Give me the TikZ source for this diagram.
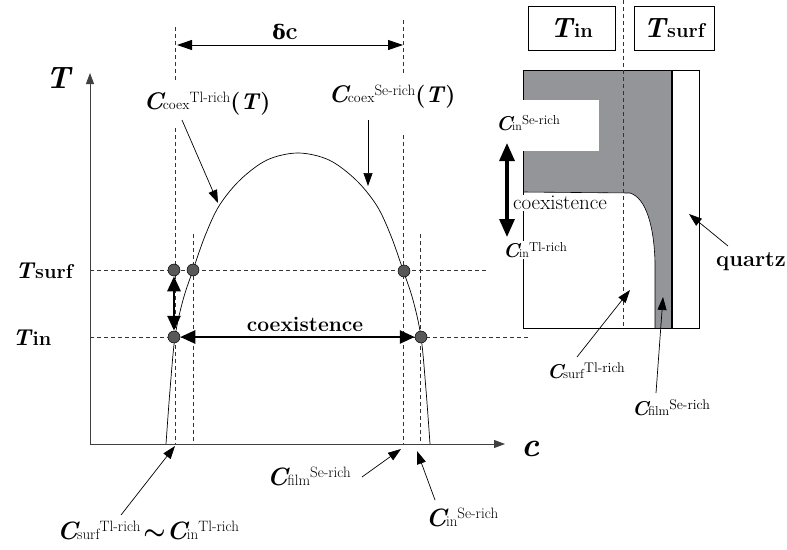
\documentclass[tikz,border=0pt]{standalone}
\usepackage{amsmath}
\usepackage{fontspec}
\newfontfamily\dvserif{DejaVu Serif}
\usetikzlibrary{arrows.meta}
\definecolor{filmgray}{RGB}{147,149,153}
\definecolor{dotgray}{RGB}{88,88,88}
\newcommand{\fs}[1]{\fontsize{#1}{#1}\selectfont}
% C label: Csize, subsize, sub, supsize, sup, raise
\newcommand{\Clab}[6]{{\fs{#1}\bfseries\itshape C}\kern-0.5pt{\fs{#2}#3}\raisebox{#6}{\fs{#4}#5}}
% T label: Tsize, subsize, sub
\newcommand{\Tlab}[3]{{\fs{#1}\bfseries\itshape T}\kern1.5pt{\fs{#2}\bfseries #3}}
\tikzset{
  guide/.style={dash pattern=on 4pt off 3pt, line width=0.6pt, black!80},
  axisline/.style={-{Triangle[length=11pt,width=8pt]}, line width=0.8pt, black!75},
  thinarrow/.style={-{Triangle[length=13pt,width=9pt]}, line width=0.7pt},
  thickdbl/.style={{Triangle[length=15pt,width=13pt]}-{Triangle[length=15pt,width=13pt]}, line width=2.6pt},
  bigdbl/.style={{Triangle[length=18pt,width=15pt]}-{Triangle[length=18pt,width=15pt]}, line width=3.2pt},
  dcarrow/.style={{Triangle[length=15pt,width=10pt]}-{Triangle[length=15pt,width=10pt]}, line width=1pt},
  dot/.style={circle, fill=dotgray, draw=black, line width=0.5pt, minimum size=12pt, inner sep=0pt},
  lbl/.style={inner sep=1pt},
  wlbl/.style={inner sep=1pt, fill=white},
  tbox/.style={draw, line width=0.7pt, inner sep=0pt},
}
\begin{document}
\begin{tikzpicture}[x=1pt,y=-1pt]
\useasboundingbox (0,0) rectangle (787,549);

% ---------------- left panel ----------------
% guide lines
\draw[guide] (90,270) -- (487,270);
\draw[guide] (90,337) -- (530,337);
\draw[guide] (175,27) -- (175,82);
\draw[guide] (175,128) -- (175,444);
\draw[guide] (403,20) -- (403,73);
\draw[guide] (403,135) -- (403,444);
\draw[guide] (193,234) -- (193,444);
\draw[guide] (420,234) -- (420,444);

% axes
\coordinate (O) at (90,444);
\coordinate (Ytip) at (90,73);
\coordinate (Xtip) at (505,444);
\draw[axisline] (O) -- (Ytip);
\draw[axisline] (O) -- (Xtip);
\node[lbl] (Tax) at (58,78) {\fs{31}\bfseries\itshape T};
\node[lbl] (cax) at (531,449) {\fs{34}\bfseries\itshape c};

% coexistence dome
\draw[line width=0.7pt] plot[smooth, tension=0.55] coordinates {
 (166,444) (170,390) (175,337) (183,300) (193,270) (205,236) (219,206)
 (240,180) (267,160) (298,153) (329,160) (356,180) (377,206) (391,236)
 (403,270) (413,300) (421,337) (426,390) (430,444)};

% delta c
\coordinate (dcL) at (177,45);
\coordinate (dcR) at (403,45);
\draw[dcarrow] (dcL) -- (dcR);
\node[lbl] (dc) at (285,32) {{\dvserif\fs{20}\bfseries δ}{\fs{24}\bfseries c}};

% axis labels
\node[lbl] (Tsurf) at (44,271) {\Tlab{23}{20}{surf}};
\node[lbl] (Tin) at (32,338) {\Tlab{23}{20}{in}};

% dots
\node[dot] (s1) at (174,270) {};
\node[dot] (s2) at (193,270) {};
\node[dot] (s3) at (404,271) {};
\node[dot] (i1) at (174,337) {};
\node[dot] (i2) at (421,337) {};

\draw[thickdbl] (s1) -- (i1);
\draw[thickdbl] (i1) -- (i2);
\node[lbl] (coexL) at (305,324) {\fs{21}\bfseries coexistence};

% curve labels
\node[lbl] (ctl) at (207,104) {\Clab{24}{14}{coex}{15}{Tl-rich}{7pt}{\fs{23}\bfseries(\textit{T})}};
\node[lbl] (cse) at (392,97) {\Clab{24}{14}{coex}{15}{Se-rich}{7pt}{\fs{23}\bfseries(\textit{T})}};
\coordinate (ctlS) at (182,120);
\coordinate (ctlE) at (218,203);
\draw[thinarrow] (ctlS) -- (ctlE);
\coordinate (cseS) at (368,120);
\coordinate (cseE) at (368,186);
\draw[thinarrow] (cseS) -- (cseE);

% bottom labels
\node[lbl] (bsurf) at (148,530) {\Clab{25}{15}{surf}{15}{Tl-rich}{8pt}\kern3pt{\fs{28}$\boldsymbol{\sim}$}\kern1pt\Clab{25}{15}{in}{15}{Tl-rich}{8pt}};
\coordinate (bsS) at (121,515);
\coordinate (bsE) at (175,446);
\draw[thinarrow] (bsS) -- (bsE);

\node[lbl] (bfilm) at (309,476) {\Clab{25}{15}{film}{15}{Se-rich}{8pt}};
\coordinate (bfS) at (362,477);
\coordinate (bfE) at (401,449);
\draw[thinarrow] (bfS) -- (bfE);

\node[lbl] (bin) at (462,517) {\Clab{25}{15}{in}{15}{Se-rich}{8pt}};
\coordinate (biS) at (435,500);
\coordinate (biE) at (417,451);
\draw[thinarrow] (biS) -- (biE);

% ---------------- right panel ----------------
\node[tbox, minimum width=87pt, minimum height=44pt] (boxin) at (571.5,28) {\Tlab{28}{20}{in}};
\node[tbox, minimum width=80pt, minimum height=44pt] (boxsurf) at (674,28) {\Tlab{28}{20}{surf}};

% gray film region
\fill[filmgray] (523,70) -- (672,70) -- (672,328) -- (655,328) -- (655,262)
  .. controls (654,226) and (646,198) .. (630,193) -- (523,192) -- cycle;
\fill[white] (515,100) rectangle (599,151);
\draw[line width=0.6pt] (523,192) -- (630,193) .. controls (646,198) and (654,226) .. (655,262) -- (655,328);
\draw[line width=0.6pt] (523,70) -- (672,70) (523,70) -- (523,100) (523,151) -- (523,328) -- (672,328);
\draw[line width=0.7pt] (672,70) rectangle (699,328);
\draw[line width=1.6pt] (672,70) -- (672,328);
\draw[guide] (623,0) -- (623,328);

% right panel labels
\node[lbl] (rin) at (528,123) {\Clab{20}{12}{in}{13}{Se-rich}{6pt}};
\node[wlbl] (rcoex) at (560,203) {\fs{21}coexistence};
\node[wlbl] (rtl) at (535,250) {\Clab{20}{12}{in}{13}{Tl-rich}{6pt}};
\coordinate (rdU) at (507,143);
\coordinate (rdD) at (507,237);
\draw[bigdbl] (rdU) -- (rdD);

\node[lbl] (quartz) at (751,262) {\fs{22}\bfseries quartz};
\coordinate (qS) at (728,246);
\coordinate (qE) at (689,214);
\draw[thinarrow] (qS) -- (qE);

\node[lbl] (rsurf) at (586,371) {\Clab{20}{13}{surf}{14}{Tl-rich}{6pt}};
\coordinate (rsS) at (577,357);
\coordinate (rsE) at (630,290);
\draw[thinarrow] (rsS) -- (rsE);

\node[lbl] (rfilm) at (671,408) {\Clab{20}{13}{film}{14}{Se-rich}{6pt}};
\coordinate (rfS) at (656,393);
\coordinate (rfE) at (663,297);
\draw[thinarrow] (rfS) -- (rfE);
\end{tikzpicture}
\end{document}
